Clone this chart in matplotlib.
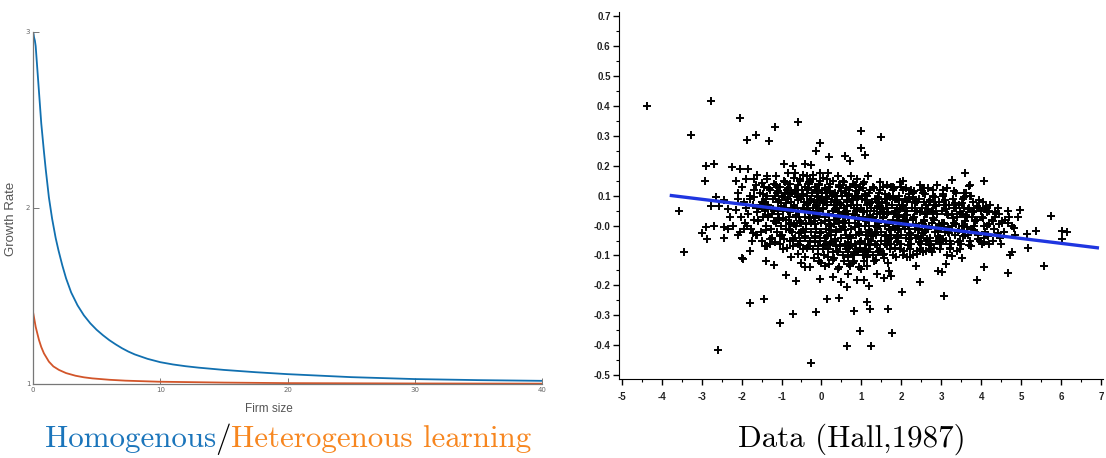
import matplotlib
matplotlib.use("Agg")
import matplotlib.pyplot as plt
from matplotlib.ticker import MultipleLocator, FixedLocator

# --- left panel: growth rate vs firm size ---
homog_size = [0, 0.04, 0.08, 0.15, 0.21, 0.33, 0.47, 0.65, 0.86, 1.0, 1.25, 1.5, 1.78, 2.0, 2.3, 2.6,
              3.0, 3.5, 4.0, 4.5, 5.0, 5.5, 6.0, 6.5, 7.0, 7.5, 8.0, 9.0, 10, 11, 12, 13, 15, 17.5,
              20, 25, 30, 35, 40]
homog_rate = [3.0, 2.99, 2.97, 2.95, 2.92, 2.80, 2.66, 2.48, 2.32, 2.22, 2.06, 1.94, 1.83, 1.76, 1.675, 1.60,
              1.52, 1.447, 1.39, 1.345, 1.308, 1.277, 1.249, 1.225, 1.203, 1.184, 1.168, 1.143, 1.124, 1.111,
              1.101, 1.093, 1.080, 1.067, 1.056, 1.039, 1.028, 1.022, 1.018]
heter_size = [0, 0.1, 0.21, 0.33, 0.47, 0.65, 0.86, 1.25, 1.6, 2.04, 2.6, 3.34, 4.0, 4.65, 6.0, 7.26, 9.87,
              15, 20, 30, 40]
heter_rate = [1.41, 1.37, 1.325, 1.29, 1.25, 1.21, 1.174, 1.127, 1.10, 1.08, 1.062, 1.047, 1.038, 1.032, 1.024,
              1.019, 1.013, 1.008, 1.005, 1.003, 1.002]

# --- right panel: Hall (1987) scatter, core cloud and outlying points ---
hall_core = [
    (-2.08, 0.11), (-1.95, 0.08), (-2.02, 0.03), (-1.92, 0.01), (-2.05, -0.02), (-1.98, 0.13), (-1.9, 0.06), (-2.1, 0.09),
    (-1.80, 0.10), (-1.72, 0.07), (-1.68, 0.02), (-1.77, -0.01), (-1.83, 0.04), (-1.70, 0.12), (-1.65, -0.03), (-1.78, 0.09),
    (-1.74, -0.05), (-1.86, 0.00),
    (-1.55, 0.11), (-1.48, 0.08), (-1.42, 0.05), (-1.60, 0.02), (-1.52, -0.02), (-1.45, 0.13), (-1.38, 0.00), (-1.58, 0.06),
    (-1.50, -0.05), (-1.40, 0.09), (-1.62, -0.03), (-1.47, 0.03),
    (-1.30, 0.12), (-1.22, 0.09), (-1.18, 0.05), (-1.33, 0.03), (-1.27, -0.01), (-1.20, 0.14), (-1.14, 0.01), (-1.35, 0.07),
    (-1.25, -0.04), (-1.16, 0.10), (-1.29, -0.06), (-1.23, 0.04), (-1.12, -0.02), (-1.37, 0.10),
    (-1.05, 0.13), (-0.98, 0.10), (-0.93, 0.06), (-1.08, 0.04), (-1.02, 0.00), (-0.95, 0.15), (-0.90, 0.02), (-1.10, 0.08),
    (-1.00, -0.03), (-0.92, 0.11), (-1.04, -0.06), (-0.97, 0.05), (-0.88, -0.01), (-1.12, 0.11), (-0.96, -0.08), (-1.06, 0.02),
    (-0.80, 0.14), (-0.73, 0.11), (-0.68, 0.07), (-0.83, 0.05), (-0.77, 0.01), (-0.70, 0.16), (-0.65, 0.03), (-0.85, 0.09),
    (-0.75, -0.02), (-0.67, 0.12), (-0.79, -0.05), (-0.72, 0.06), (-0.63, 0.00), (-0.87, 0.12), (-0.71, -0.07), (-0.81, 0.03),
    (-0.66, -0.04), (-0.76, 0.08),
    (-0.55, 0.15), (-0.48, 0.12), (-0.43, 0.08), (-0.58, 0.05), (-0.52, 0.01), (-0.45, 0.17), (-0.40, 0.03), (-0.60, 0.10),
    (-0.50, -0.02), (-0.42, 0.13), (-0.54, -0.05), (-0.47, 0.06), (-0.38, -0.01), (-0.62, 0.12), (-0.46, -0.08), (-0.56, 0.03),
    (-0.41, -0.04), (-0.51, 0.09), (-0.37, 0.07), (-0.59, -0.06),
    (-0.30, 0.14), (-0.23, 0.11), (-0.18, 0.08), (-0.33, 0.05), (-0.27, 0.01), (-0.20, 0.17), (-0.15, 0.03), (-0.35, 0.10),
    (-0.25, -0.02), (-0.17, 0.13), (-0.29, -0.05), (-0.22, 0.06), (-0.13, -0.01), (-0.37, 0.12), (-0.21, -0.08), (-0.31, 0.03),
    (-0.16, -0.04), (-0.26, 0.09), (-0.12, 0.07), (-0.34, -0.07), (-0.19, -0.11), (-0.28, 0.15),
    (-0.05, 0.14), (0.02, 0.11), (0.07, 0.08), (-0.08, 0.05), (-0.02, 0.01), (0.05, 0.16), (0.10, 0.03), (-0.10, 0.10),
    (0.00, -0.02), (0.08, 0.12), (-0.04, -0.05), (0.03, 0.06), (0.12, -0.01), (-0.12, 0.12), (0.04, -0.08), (-0.06, 0.03),
    (0.09, -0.04), (-0.01, 0.09), (0.13, 0.07), (-0.09, -0.07), (0.06, -0.10), (-0.03, 0.15), (0.11, -0.06), (-0.07, -0.12),
    (0.20, 0.13), (0.27, 0.10), (0.32, 0.07), (0.17, 0.04), (0.23, 0.00), (0.30, 0.15), (0.35, 0.02), (0.15, 0.09),
    (0.25, -0.03), (0.33, 0.11), (0.21, -0.06), (0.28, 0.05), (0.37, -0.02), (0.13, 0.11), (0.29, -0.09), (0.19, 0.02),
    (0.34, -0.05), (0.24, 0.08), (0.38, 0.06), (0.16, -0.08), (0.31, -0.11), (0.22, 0.14), (0.36, -0.07), (0.18, -0.13),
    (0.45, 0.13), (0.52, 0.10), (0.57, 0.06), (0.42, 0.03), (0.48, -0.01), (0.55, 0.15), (0.60, 0.01), (0.40, 0.08),
    (0.50, -0.04), (0.58, 0.11), (0.46, -0.07), (0.53, 0.04), (0.62, -0.03), (0.38, 0.10), (0.54, -0.10), (0.44, 0.01),
    (0.59, -0.06), (0.49, 0.07), (0.63, 0.05), (0.41, -0.09), (0.56, -0.12), (0.47, 0.13), (0.61, -0.08), (0.43, -0.14),
    (0.70, 0.12), (0.77, 0.09), (0.82, 0.06), (0.67, 0.03), (0.73, -0.01), (0.80, 0.14), (0.85, 0.01), (0.65, 0.08),
    (0.75, -0.04), (0.83, 0.10), (0.71, -0.07), (0.78, 0.04), (0.87, -0.03), (0.63, 0.10), (0.79, -0.10), (0.69, 0.01),
    (0.84, -0.06), (0.74, 0.07), (0.88, 0.05), (0.66, -0.09), (0.81, -0.12), (0.72, 0.13), (0.86, -0.08), (0.68, -0.13),
    (0.95, 0.12), (1.02, 0.09), (1.07, 0.05), (0.92, 0.02), (0.98, -0.02), (1.05, 0.14), (1.10, 0.00), (0.90, 0.07),
    (1.00, -0.05), (1.08, 0.10), (0.96, -0.08), (1.03, 0.03), (1.12, -0.03), (0.88, 0.10), (1.04, -0.10), (0.94, 0.00),
    (1.09, -0.06), (0.99, 0.06), (1.13, 0.05), (0.91, -0.09), (1.06, -0.12), (0.97, 0.13), (1.11, -0.08), (0.93, -0.14),
    (1.20, 0.11), (1.27, 0.08), (1.32, 0.05), (1.17, 0.02), (1.23, -0.02), (1.30, 0.13), (1.35, 0.00), (1.15, 0.07),
    (1.25, -0.05), (1.33, 0.09), (1.21, -0.08), (1.28, 0.03), (1.37, -0.03), (1.13, 0.10), (1.29, -0.10), (1.19, 0.00),
    (1.34, -0.06), (1.24, 0.06), (1.38, 0.04), (1.16, -0.09), (1.31, -0.12), (1.22, 0.12),
    (1.45, 0.11), (1.52, 0.08), (1.57, 0.04), (1.42, 0.01), (1.48, -0.02), (1.55, 0.13), (1.60, 0.00), (1.40, 0.06),
    (1.50, -0.05), (1.58, 0.09), (1.46, -0.08), (1.53, 0.03), (1.62, -0.03), (1.38, 0.09), (1.54, -0.10), (1.44, 0.00),
    (1.59, -0.06), (1.49, 0.06), (1.63, 0.04), (1.41, -0.09), (1.56, -0.11), (1.47, 0.12),
    (1.70, 0.10), (1.77, 0.07), (1.82, 0.04), (1.67, 0.01), (1.73, -0.03), (1.80, 0.12), (1.85, -0.01), (1.65, 0.06),
    (1.75, -0.06), (1.83, 0.09), (1.71, -0.08), (1.78, 0.02), (1.87, -0.04), (1.63, 0.09), (1.79, -0.10), (1.69, -0.01),
    (1.84, 0.05), (1.74, 0.13), (1.88, 0.03), (1.66, -0.05),
    (1.95, 0.10), (2.02, 0.07), (2.07, 0.03), (1.92, 0.00), (1.98, -0.03), (2.05, 0.12), (2.10, -0.01), (1.90, 0.06),
    (2.00, -0.06), (2.08, 0.09), (1.96, -0.08), (2.03, 0.02), (2.12, -0.04), (1.88, 0.09), (2.04, -0.10), (1.94, -0.01),
    (2.09, 0.05), (1.99, 0.13), (2.13, 0.02), (1.91, -0.05),
    (2.20, 0.09), (2.27, 0.06), (2.32, 0.03), (2.17, 0.00), (2.23, -0.03), (2.30, 0.11), (2.35, -0.01), (2.15, 0.05),
    (2.25, -0.06), (2.33, 0.08), (2.21, -0.08), (2.28, 0.02), (2.37, -0.04), (2.13, 0.08), (2.29, -0.10), (2.19, -0.01),
    (2.34, 0.05), (2.24, 0.12),
    (2.45, 0.09), (2.52, 0.06), (2.57, 0.02), (2.42, -0.01), (2.48, -0.04), (2.55, 0.11), (2.60, -0.02), (2.40, 0.05),
    (2.50, -0.06), (2.58, 0.08), (2.46, -0.08), (2.53, 0.01), (2.62, -0.05), (2.38, 0.08), (2.54, -0.09), (2.44, -0.01),
    (2.59, 0.04), (2.49, 0.12),
    (2.70, 0.08), (2.77, 0.05), (2.82, 0.02), (2.67, -0.01), (2.73, -0.04), (2.80, 0.10), (2.85, -0.02), (2.65, 0.04),
    (2.75, -0.06), (2.83, 0.07), (2.71, -0.08), (2.78, 0.01), (2.87, -0.05), (2.63, 0.07), (2.79, 0.12), (2.69, 0.00),
    (2.95, 0.08), (3.02, 0.05), (3.07, 0.01), (2.92, -0.02), (2.98, -0.04), (3.05, 0.10), (3.10, -0.02), (2.90, 0.04),
    (3.00, -0.06), (3.08, 0.07), (2.96, -0.08), (3.03, 0.01), (3.12, -0.05), (2.88, 0.07), (3.04, 0.12), (2.94, 0.00),
    (3.20, 0.07), (3.27, 0.04), (3.32, 0.01), (3.17, -0.02), (3.23, -0.05), (3.30, 0.09), (3.35, -0.03), (3.15, 0.04),
    (3.25, -0.06), (3.33, 0.06), (3.21, -0.08), (3.28, 0.00), (3.37, 0.11), (3.13, 0.07),
    (3.45, 0.07), (3.52, 0.04), (3.57, 0.00), (3.42, -0.02), (3.48, -0.05), (3.55, 0.09), (3.60, -0.03), (3.40, 0.03),
    (3.50, -0.06), (3.58, 0.06), (3.46, -0.08), (3.53, 0.00), (3.62, 0.11), (3.38, 0.06),
    (3.70, 0.06), (3.77, 0.03), (3.82, 0.00), (3.67, -0.03), (3.73, -0.05), (3.80, 0.08), (3.85, -0.02), (3.65, 0.03),
    (3.75, -0.07), (3.83, 0.05), (3.71, 0.10), (3.78, -0.01),
    (3.95, 0.06), (4.02, 0.03), (4.07, 0.00), (3.92, -0.03), (3.98, -0.05), (4.05, 0.08), (4.10, -0.02), (3.90, 0.02),
    (4.00, 0.05), (4.08, -0.04),
    (4.20, 0.05), (4.27, 0.02), (4.32, -0.01), (4.17, -0.03), (4.23, 0.07), (4.30, -0.05), (4.35, 0.03), (4.15, 0.00),
    (4.45, 0.04), (4.52, 0.01), (4.57, -0.02), (4.42, 0.06), (4.48, -0.04), (4.60, 0.02),
    (4.70, 0.03), (4.78, 0.00), (4.85, -0.03), (4.67, 0.05),
]
hall_dense = [
    (-1.70, 0.095), (-1.58, 0.015), (-1.64, 0.135), (-1.55, 0.065), (-1.71, -0.025), (-1.61, 0.045),
    (-1.44, 0.075), (-1.31, 0.125), (-1.40, -0.015), (-1.33, 0.035), (-1.47, 0.105), (-1.36, 0.155), (-1.29, -0.045),
    (-1.42, 0.055),
    (-1.19, 0.015), (-1.07, 0.085), (-1.15, 0.135), (-1.04, -0.035), (-1.21, 0.055), (-1.10, 0.115), (-1.17, -0.055),
    (-1.06, 0.025), (-1.13, 0.165), (-1.02, 0.065),
    (-0.95, 0.095), (-0.82, 0.005), (-0.91, 0.145), (-0.80, 0.045), (-0.94, -0.045), (-0.85, 0.125), (-0.78, -0.015),
    (-0.89, 0.075), (-0.83, 0.175), (-0.96, 0.025), (-0.87, -0.075), (-0.79, 0.105),
    (-0.70, 0.065), (-0.57, -0.025), (-0.66, 0.115), (-0.55, 0.155), (-0.69, 0.005), (-0.60, 0.085), (-0.53, -0.065),
    (-0.64, 0.035), (-0.58, 0.135), (-0.71, -0.045), (-0.62, 0.095), (-0.54, 0.015), (-0.67, 0.175), (-0.59, -0.095),
    (-0.45, 0.105), (-0.32, 0.025), (-0.41, -0.035), (-0.30, 0.145), (-0.44, 0.055), (-0.35, -0.075), (-0.28, 0.085),
    (-0.39, 0.005), (-0.33, 0.125), (-0.46, -0.015), (-0.37, 0.165), (-0.29, 0.045), (-0.42, -0.105), (-0.34, 0.075),
    (-0.20, 0.045), (-0.07, 0.135), (-0.16, -0.055), (-0.05, 0.085), (-0.19, 0.015), (-0.10, 0.115), (-0.03, -0.025),
    (-0.14, 0.065), (-0.08, -0.095), (-0.21, 0.155), (-0.12, 0.035), (-0.04, 0.175), (-0.17, -0.035), (-0.09, 0.095),
    (-0.02, -0.125), (-0.15, 0.005),
    (0.05, 0.075), (0.18, -0.015), (0.09, 0.125), (0.20, 0.035), (0.06, -0.065), (0.15, 0.155), (0.22, 0.005),
    (0.11, 0.095), (0.17, -0.105), (0.04, 0.055), (0.13, -0.035), (0.21, 0.115), (0.08, -0.135), (0.16, 0.175),
    (0.23, -0.055), (0.10, 0.015),
    (0.30, 0.105), (0.43, 0.045), (0.34, -0.045), (0.45, 0.135), (0.31, 0.005), (0.40, -0.085), (0.47, 0.075),
    (0.36, -0.015), (0.42, 0.165), (0.29, -0.115), (0.38, 0.025), (0.46, -0.065), (0.33, 0.085), (0.41, -0.145),
    (0.48, 0.115), (0.35, 0.055),
    (0.55, -0.005), (0.68, 0.105), (0.59, 0.035), (0.70, -0.075), (0.56, 0.145), (0.65, 0.065), (0.72, -0.035),
    (0.61, 0.125), (0.67, -0.105), (0.54, 0.015), (0.63, 0.085), (0.71, -0.135), (0.58, 0.045), (0.66, -0.055),
    (0.73, 0.165), (0.60, -0.015),
    (0.80, 0.085), (0.93, -0.025), (0.84, 0.135), (0.95, 0.025), (0.81, -0.095), (0.90, 0.055), (0.97, -0.055),
    (0.86, 0.115), (0.92, 0.005), (0.79, -0.125), (0.88, 0.155), (0.96, -0.075), (0.83, 0.035), (0.91, 0.095),
    (0.98, -0.145), (0.85, -0.005),
    (1.05, 0.045), (1.18, -0.065), (1.09, 0.105), (1.20, -0.015), (1.06, 0.145), (1.15, -0.105), (1.22, 0.075),
    (1.11, 0.015), (1.17, -0.045), (1.04, 0.125), (1.13, -0.135), (1.21, 0.035), (1.08, -0.085), (1.16, 0.165),
    (1.23, -0.025), (1.10, 0.085),
    (1.30, -0.035), (1.43, 0.075), (1.34, 0.015), (1.45, -0.085), (1.31, 0.125), (1.40, -0.005), (1.47, 0.045),
    (1.36, -0.115), (1.42, 0.095), (1.29, 0.025), (1.38, -0.065), (1.46, 0.145), (1.33, -0.025), (1.41, 0.065),
    (1.55, 0.055), (1.68, -0.045), (1.59, 0.105), (1.70, 0.005), (1.56, -0.095), (1.65, 0.135), (1.72, -0.015),
    (1.61, 0.075), (1.67, -0.125), (1.54, 0.025), (1.63, -0.065), (1.71, 0.095), (1.58, -0.035), (1.66, 0.045),
    (1.80, -0.005), (1.93, 0.085), (1.84, -0.075), (1.95, 0.035), (1.81, 0.125), (1.90, -0.035), (1.97, 0.055),
    (1.86, -0.105), (1.92, 0.015), (1.79, 0.095), (1.88, -0.055), (1.96, 0.145), (1.83, 0.045), (1.91, -0.015),
    (2.05, 0.065), (2.18, -0.045), (2.09, 0.015), (2.20, 0.105), (2.06, -0.085), (2.15, 0.035), (2.22, -0.025),
    (2.11, 0.125), (2.17, -0.065), (2.04, 0.005), (2.13, 0.085), (2.21, -0.105),
    (2.30, 0.025), (2.43, -0.055), (2.34, 0.075), (2.45, -0.015), (2.31, 0.115), (2.40, -0.085), (2.47, 0.045),
    (2.36, 0.005), (2.42, -0.035), (2.29, 0.095), (2.38, -0.095), (2.46, 0.135),
    (2.55, -0.025), (2.68, 0.055), (2.59, 0.105), (2.70, -0.065), (2.56, 0.015), (2.65, -0.045), (2.72, 0.085),
    (2.61, -0.005), (2.67, 0.125), (2.54, -0.085),
    (2.80, 0.045), (2.93, -0.035), (2.84, 0.095), (2.95, 0.005), (2.81, -0.075), (2.90, 0.135), (2.97, -0.055),
    (2.86, 0.065), (2.92, -0.015), (2.79, 0.025),
    (3.05, -0.045), (3.18, 0.035), (3.09, 0.085), (3.20, -0.025), (3.06, 0.005), (3.15, 0.125), (3.22, -0.075),
    (3.11, 0.055), (3.17, -0.005), (3.04, 0.105),
    (3.30, 0.025), (3.43, -0.055), (3.34, 0.075), (3.45, -0.015), (3.31, 0.115), (3.40, -0.085), (3.47, 0.045),
    (3.36, 0.005),
    (3.55, -0.035), (3.68, 0.055), (3.59, 0.015), (3.70, -0.065), (3.56, 0.095), (3.65, -0.005), (3.72, 0.135),
    (3.61, 0.035),
    (3.80, 0.045), (3.93, -0.045), (3.84, 0.015), (3.95, 0.085), (3.81, -0.015), (3.90, 0.065),
    (4.05, 0.025), (4.18, -0.035), (4.09, 0.055), (4.20, 0.005), (4.06, -0.055), (4.15, 0.045),
    (4.30, 0.015), (4.43, -0.025), (4.34, 0.045), (4.45, 0.005),
]
hall_outer = [
    (-4.37, 0.40), (-2.77, 0.418), (-2.03, 0.359), (-3.26, 0.304), (-1.87, 0.287), (-1.63, 0.304), (-1.32, 0.284),
    (-2.89, 0.198), (-2.69, 0.207), (-2.23, 0.195), (-2.03, 0.19), (-1.83, 0.189), (-2.91, 0.148), (-2.13, 0.148),
    (-1.89, 0.154), (-1.68, 0.154), (-1.62, 0.168), (-1.37, 0.165), (-1.49, 0.143),
    (-3.58, 0.049), (-3.45, -0.087), (-2.64, 0.096), (-2.77, 0.067), (-2.56, 0.067), (-2.45, 0.085), (-2.35, 0.057),
    (-2.14, 0.052), (-2.30, 0.029), (-2.43, -0.005), (-2.34, -0.01), (-2.22, -0.001), (-2.89, -0.005), (-2.69, -0.001),
    (-2.99, -0.026), (-2.87, -0.046), (-2.44, -0.042), (-2.08, -0.032), (-1.95, -0.01), (-1.98, -0.109), (-1.78, -0.084),
    (-1.41, -0.068), (-1.38, -0.12), (-1.78, -0.259), (-1.45, -0.245), (-2.58, -0.415),
    (-1.17, 0.329), (-0.59, 0.346), (-0.03, 0.276), (-0.13, 0.248), (1.00, 0.317), (0.98, 0.259), (1.08, 0.235),
    (1.50, 0.297), (0.18, 0.228), (0.60, 0.232), (0.71, 0.217), (-0.42, 0.206), (-0.25, 0.204), (-0.93, 0.206),
    (-0.72, 0.198), (2.05, 0.15), (1.79, 0.128), (2.55, 0.124),
    (-1.03, -0.326), (-0.72, -0.297), (-0.14, -0.289), (-0.26, -0.461), (0.14, -0.245), (0.43, -0.242), (0.81, -0.284),
    (0.63, -0.402), (0.96, -0.352), (1.23, -0.402), (1.13, -0.254), (1.21, -0.278), (1.66, -0.278), (1.77, -0.358),
    (2.01, -0.223), (2.46, -0.189), (2.92, -0.153), (-0.04, -0.178), (-0.63, -0.184), (-0.88, -0.164), (-1.20, -0.132),
    (-1.97, -0.112), (-1.36, -0.068), (0.29, -0.173), (0.66, -0.162), (0.48, -0.19), (0.63, -0.206), (0.90, -0.181),
    (1.06, -0.181), (1.19, -0.201), (1.40, -0.162), (1.56, -0.175), (1.73, -0.167), (1.69, -0.151), (-0.40, -0.14),
    (-0.28, -0.138), (-0.50, -0.126), (-0.76, -0.106),
    (3.59, 0.176), (3.28, 0.151), (4.07, 0.148), (2.57, 0.124), (3.69, 0.132), (3.57, 0.109), (3.74, 0.098),
    (3.53, 0.074), (4.97, 0.051), (5.74, 0.032), (4.91, 0.027), (5.37, -0.018), (6.02, -0.018), (6.16, -0.023),
    (6.02, -0.045), (5.14, -0.027), (5.18, -0.076), (4.78, -0.09), (4.73, -0.098), (4.06, -0.137), (4.66, -0.159),
    (3.89, -0.181), (5.58, -0.136), (3.03, -0.156), (2.37, -0.134), (3.11, -0.129), (3.28, -0.101), (3.15, -0.099),
    (3.53, -0.11), (2.78, -0.09), (2.63, -0.084), (2.15, -0.104), (4.49, -0.062), (4.20, -0.062), (4.03, -0.062),
    (4.83, -0.007), (4.66, 0.01), (4.52, 0.015), (4.36, 0.038), (4.11, 0.062), (3.07, -0.236),
]
fit_x = [-3.8, 6.95]
fit_y = [0.101, -0.075]

y_ticks = [-0.5, -0.4, -0.3, -0.2, -0.1, 0.0, 0.1, 0.2, 0.3, 0.4, 0.5, 0.6, 0.7]
y_tick_labels = ["-0.5", "-0.4", "-0.3", "-0.2", "-0.1", "-0.0", "0.1", "0.2", "0.3", "0.4", "0.5", "0.6", "0.7"]
x_ticks = [-5, -4, -3, -2, -1, 0, 1, 2, 3, 4, 5, 6, 7]

blue = "#1170b0"
red = "#d2552a"
cap_blue = "#1b75bb"
cap_orange = "#f7861f"

W, H = 1106, 458
fig = plt.figure(figsize=(W / 100, H / 100), dpi=100)

# left panel, MATLAB-ish styling
ax1 = fig.add_axes([33 / W, 1 - 384 / H, 509 / W, 352 / H])
ax1.plot(homog_size, homog_rate, color=blue, lw=1.3)
ax1.plot(heter_size, heter_rate, color=red, lw=1.3)
ax1.set_xlim(0, 40)
ax1.set_ylim(1, 3)
ax1.set_xticks([0, 10, 20, 30, 40])
ax1.set_yticks([1, 2, 3])
for s in ["top", "right"]:
    ax1.spines[s].set_visible(False)
for s in ["left", "bottom"]:
    ax1.spines[s].set_color("#777777")
    ax1.spines[s].set_linewidth(0.9)
ax1.tick_params(direction="in", length=4, width=0.7, color="#777777",
                labelsize=5, labelcolor="#666666", pad=2)
ax1.set_xlabel("Firm size", fontsize=8.5, color="#555555", family="Liberation Sans")
ax1.set_ylabel("Growth Rate", fontsize=9.5, color="#555555", family="Liberation Sans")
ax1.xaxis.set_label_coords(0.464, -0.054)
ax1.yaxis.set_label_coords(-0.031, 0.47)

# right panel
ax2 = fig.add_axes([619 / W, 1 - 379 / H, (1103 - 619) / W, 367 / H])
for pts in [hall_core, hall_dense, hall_outer]:
    px, py = zip(*pts)
    ax2.plot(px, py, "+", color="black", ms=6, mew=1.4)
ax2.plot(fit_x, fit_y, color="#1f36e0", lw=2.4, solid_capstyle="butt")
ax2.set_xlim(-5.07, 7.05)
ax2.set_ylim(-0.513, 0.714)
ax2.yaxis.set_major_locator(FixedLocator(y_ticks))
ax2.set_yticklabels(y_tick_labels)
ax2.yaxis.set_minor_locator(MultipleLocator(0.05))
ax2.set_xticks(x_ticks)
ax2.set_xticklabels([str(v) for v in x_ticks])
ax2.xaxis.set_minor_locator(MultipleLocator(0.5))
for s in ["top", "right"]:
    ax2.spines[s].set_visible(False)
ax2.tick_params(which="major", direction="out", length=4, width=1.0, pad=2)
ax2.tick_params(which="minor", direction="out", length=2, width=0.8)
for lab in ax2.get_xticklabels() + ax2.get_yticklabels():
    lab.set_fontsize(7)
    lab.set_fontweight("bold")
    lab.set_family("Liberation Sans")
    lab.set_color("#222222")
ax2.tick_params(axis="x", pad=5)

# captions in Computer Modern
renderer = fig.canvas.get_renderer()
cap_y = 1 - 447 / H
parts = [("Homogenous", cap_blue), ("/", "black"), ("Heterogenous learning", cap_orange)]
texts = [fig.text(0, cap_y, s, color=c, fontsize=22.3, family="cmr10", va="baseline") for s, c in parts]
widths = [t.get_window_extent(renderer).width for t in texts]
x = 288 - sum(widths) / 2
for t, w in zip(texts, widths):
    t.set_x(x / W)
    x += w
fig.text(852 / W, cap_y, "Data (Hall,1987)", fontsize=22.3, family="cmr10", va="baseline", ha="center")

fig.savefig("out.png", dpi=100)
